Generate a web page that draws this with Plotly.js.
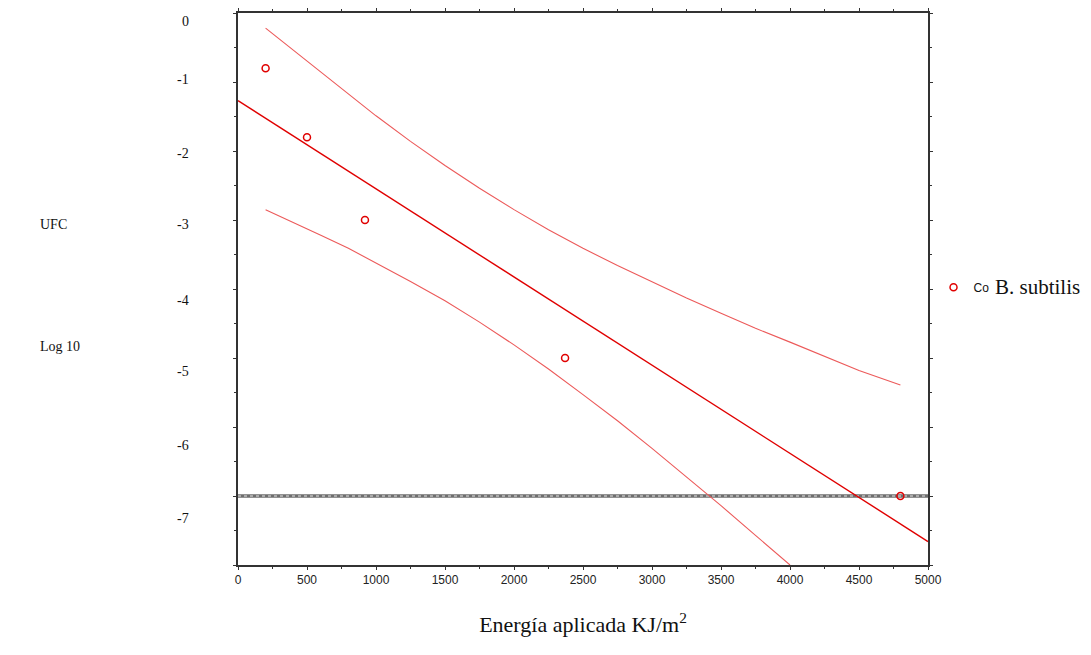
<!DOCTYPE html>
<html>
<head>
<meta charset="utf-8">
<script src="https://cdn.plot.ly/plotly-3.0.1.min.js"></script>
<style>html,body{margin:0;padding:0;background:#fff;}#chart{width:1091px;height:655px;}</style>
</head>
<body>
<div id="chart"></div>
<script>
// Observed data (Log10 UFC vs applied energy)
const energy = [200, 500, 920, 2370, 4800];
const logUFC = [-0.8, -1.8, -3.0, -5.0, -7.0];

// Fitted regression line
const fitX = [0, 5000];
const fitY = [-1.27, -7.66];

// 95% confidence band
const upperX = [200, 400, 600, 800, 1000, 1250, 1500, 1750, 2000, 2250, 2500, 2750, 3000, 3250, 3500, 3750, 4000, 4250, 4500, 4800];
const upperY = [-0.22, -0.54, -0.86, -1.18, -1.49, -1.86, -2.21, -2.54, -2.85, -3.14, -3.41, -3.66, -3.90, -4.13, -4.35, -4.57, -4.77, -4.98, -5.18, -5.39];
const lowerX = [200, 400, 600, 800, 1000, 1250, 1500, 1750, 2000, 2250, 2500, 2750, 3000, 3250, 3500, 3750, 4000];
const lowerY = [-2.85, -3.03, -3.22, -3.41, -3.62, -3.89, -4.17, -4.48, -4.81, -5.16, -5.53, -5.91, -6.31, -6.72, -7.14, -7.57, -8.00];

// Detection limit line
const limitX = [0, 5000];
const limitY = [-7, -7];

// Left-hand text labels and their positions
const yLabelPos = [-0.13, -0.96, -2.03, -3.07, -4.16, -5.20, -6.27, -7.33];
const yLabelText = ['0', '-1', '-2', '-3', '-4', '-5', '-6', '-7'];

// X tick values
const xTicks = [0, 500, 1000, 1500, 2000, 2500, 3000, 3500, 4000, 4500, 5000];

const red = '#e00000';
const bandRed = '#ec5a5a';
const serif = 'Liberation Serif, Times New Roman, serif';
const sans = 'Liberation Sans, Arial, sans-serif';

const traces = [
  {x: limitX, y: limitY, mode: 'lines', line: {color: '#6e6e6e', width: 3.5}, showlegend: false, hoverinfo: 'skip'},
  {x: limitX, y: limitY, mode: 'lines', line: {color: '#e8e8e8', width: 1, dash: 'dot'}, showlegend: false, hoverinfo: 'skip'},
  {x: upperX, y: upperY, mode: 'lines', line: {color: bandRed, width: 1.1}, showlegend: false},
  {x: lowerX, y: lowerY, mode: 'lines', line: {color: bandRed, width: 1.1}, showlegend: false},
  {x: fitX, y: fitY, mode: 'lines', line: {color: red, width: 1.4}, showlegend: false},
  {x: energy, y: logUFC, mode: 'markers', name: 'Co',
   marker: {symbol: 'circle-open', size: 7, color: red, line: {width: 1.5, color: red}}}
];

const annotations = yLabelText.map((t, i) => ({
  xref: 'paper', yref: 'y', x: -0.068, y: yLabelPos[i], xanchor: 'right', yanchor: 'middle',
  text: t, showarrow: false, font: {family: serif, size: 14, color: '#111'}
}));
annotations.push(
  {xref: 'paper', yref: 'paper', x: -0.29, y: 0.6176, xanchor: 'left', yanchor: 'middle', text: 'UFC', showarrow: false,
   font: {family: serif, size: 14, color: '#111'}},
  {xref: 'paper', yref: 'paper', x: -0.29, y: 0.395, xanchor: 'left', yanchor: 'middle', text: 'Log 10', showarrow: false,
   font: {family: serif, size: 14, color: '#111'}},
  {xref: 'paper', yref: 'paper', x: 1.0935, y: 0.503, xanchor: 'left', yanchor: 'middle', text: 'B. subtilis', showarrow: false,
   font: {family: serif, size: 21, color: '#111'}}
);

const layout = {
  width: 1091, height: 655,
  margin: {l: 238, r: 163, t: 13, b: 90},
  paper_bgcolor: '#fff', plot_bgcolor: '#fff',
  showlegend: true,
  legend: {x: 1.008, y: 0.503, xanchor: 'left', yanchor: 'middle', bgcolor: 'rgba(0,0,0,0)',
           font: {family: sans, size: 12, color: '#111'}, itemwidth: 30},
  xaxis: {
    range: [0, 5000], tickvals: xTicks, ticks: 'outside', ticklen: 3, tickwidth: 1, tickcolor: '#333',
    showline: true, linecolor: '#333', linewidth: 2, mirror: 'ticks', showgrid: false, zeroline: false,
    minor: {dtick: 250, ticks: 'outside', ticklen: 2, tickcolor: '#333', showgrid: false},
    tickfont: {family: sans, size: 12, color: '#222'},
    title: {text: 'Energía aplicada KJ/m<sup>2</sup>', standoff: 30,
            font: {family: serif, size: 22, color: '#111'}}
  },
  yaxis: {
    range: [-8, 0], dtick: 1, tick0: 0, ticks: 'outside', ticklen: 3, tickwidth: 1, tickcolor: '#333',
    showline: true, linecolor: '#333', linewidth: 2, mirror: 'ticks', showgrid: false, zeroline: false,
    showticklabels: false,
    minor: {dtick: 0.5, ticks: 'outside', ticklen: 2, tickcolor: '#333', showgrid: false}
  },
  annotations: annotations
};

Plotly.newPlot('chart', traces, layout, {staticPlot: true});
</script>
</body>
</html>
